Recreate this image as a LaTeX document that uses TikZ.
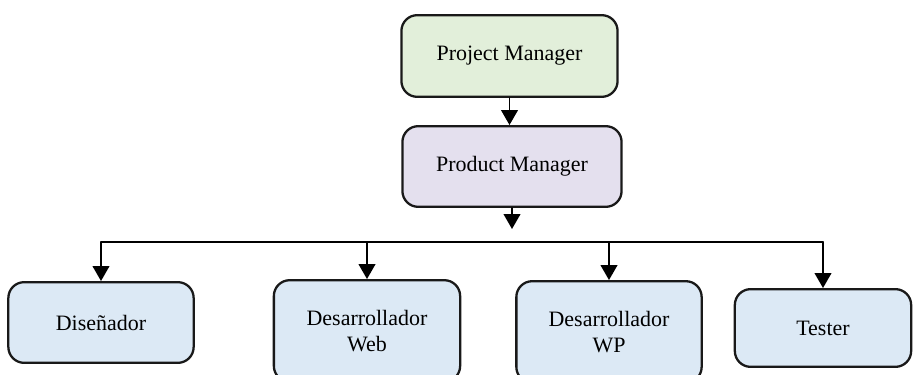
\documentclass[tikz,border=0pt]{standalone}
\usepackage{fontspec}
\setmainfont{Liberation Serif}
\usepackage{xcolor}
\usetikzlibrary{arrows.meta}
\definecolor{pmgreen}{RGB}{226,239,218}
\definecolor{prodlila}{RGB}{228,224,238}
\definecolor{teamblue}{RGB}{220,233,245}
\tikzset{
  every picture/.style={line join=round, line cap=round, >=Stealth},
  rolebox/.style={draw=black!90, line width=1.3pt, rounded corners=9pt, align=center,
    font=\fontsize{12.5}{15}\selectfont, text=black, inner sep=0pt},
  link/.style={line width=1pt, -{Triangle[length=8.5pt,width=9.5pt]}},
}

\begin{document}
\begin{tikzpicture}[x=0.02cm,y=-0.02cm]
\useasboundingbox(0,0)rectangle(913,375);
\node[rolebox,fill=pmgreen,minimum width=217*0.567pt,minimum height=82*0.567pt](pm)at(509.5,56){Project Manager};
\node[rolebox,fill=prodlila,minimum width=220*0.567pt,minimum height=81*0.567pt](prod)at(512,166.5){Product Manager};
\node[rolebox,fill=teamblue,minimum width=186*0.567pt,minimum height=81*0.567pt](dis)at(101,322.5){Diseñador};
\node[rolebox,fill=teamblue,minimum width=187*0.567pt,minimum height=102*0.567pt](web)at(367,331){Desarrollador\\Web};
\node[rolebox,fill=teamblue,minimum width=186*0.567pt,minimum height=102*0.567pt](wp)at(609,332){Desarrollador\\WP};
\node[rolebox,fill=teamblue,minimum width=177*0.567pt,minimum height=78*0.567pt](test)at(823,328){Tester};
\coordinate(bus)at(512,242);
\coordinate(gap)at(512,229);
\draw[link](pm.south)--(pm.south|-prod.north);
\draw[link](prod.south)--(gap);
\draw[line width=1pt](dis.north|-bus)--(test.north|-bus);
\foreach \r in {dis,web,wp,test}
  \draw[link](\r.north|-bus)--(\r.north);
\end{tikzpicture}
\end{document}
